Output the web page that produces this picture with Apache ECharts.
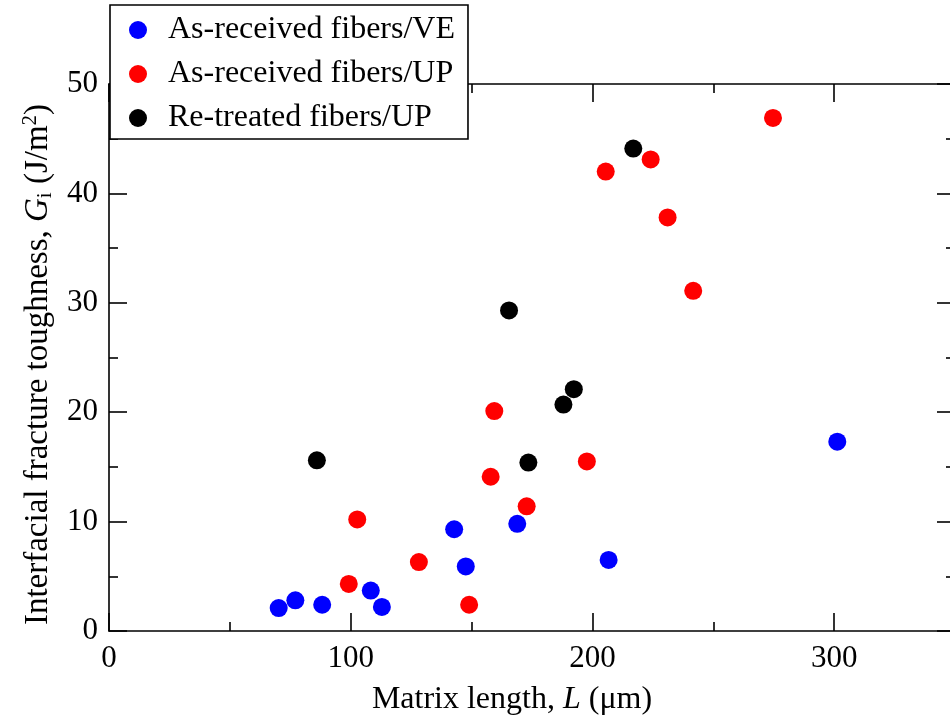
<!DOCTYPE html>
<html>
<head>
<meta charset="utf-8">
<script src="https://cdn.jsdelivr.net/npm/echarts@6/dist/echarts.min.js"></script>
<style>
  html, body { margin: 0; padding: 0; background: #fff; }
  #chart { width: 950px; height: 726px; }
</style>
</head>
<body>
<div id="chart"></div>
<script>
// Matrix length L (µm) and interfacial fracture toughness Gi (J/m²)
const veL = [70.2, 77.1, 88.2, 108.3, 112.9, 142.8, 147.6, 168.9, 206.7, 301.3];
const veG = [2.1, 2.8, 2.4, 3.7, 2.2, 9.3, 5.9, 9.8, 6.5, 17.3];

const upL = [99.2, 102.7, 128.2, 149.0, 157.9, 159.4, 172.8, 197.7, 205.5, 224.1, 231.1, 241.7, 274.7];
const upG = [4.3, 10.2, 6.3, 2.4, 14.1, 20.1, 11.4, 15.5, 42.0, 43.1, 37.8, 31.1, 46.9];

const rtL = [86.0, 165.5, 173.5, 188.0, 192.3, 216.9];
const rtG = [15.6, 29.3, 15.4, 20.7, 22.1, 44.1];

const seriesNames = ['As-received fibers/VE', 'As-received fibers/UP', 'Re-treated fibers/UP'];
const seriesColors = ['#0000ff', '#ff0000', '#000000'];

const xMajorTicks = [0, 100, 200, 300];
const xMinorTicks = [50, 150, 250];

const FONT = 'Liberation Serif, Times New Roman, serif';
const lineStyle = { color: '#000', width: 1.6 };

function pairs(xs, ys) { return xs.map((x, i) => [x, ys[i]]); }

function xAxisBase(position, major, withLabels, withLine) {
  return {
    type: 'value', min: 0, max: 350, position: position,
    gridIndex: 0,
    axisLine: { show: withLine, onZero: false, lineStyle: lineStyle },
    axisTick: {
      show: true, inside: true, length: major ? 18 : 9,
      lineStyle: lineStyle,
      customValues: major ? xMajorTicks : xMinorTicks
    },
    axisLabel: withLabels ? {
      show: true, customValues: xMajorTicks, margin: 12,
      fontFamily: FONT, fontSize: 31, color: '#000'
    } : { show: false },
    splitLine: { show: false }
  };
}

const bottomMajor = xAxisBase('bottom', true, true, true);
bottomMajor.name = '{t|Matrix length, }{it|L}{t| (μm)}';
bottomMajor.nameLocation = 'middle';
bottomMajor.nameGap = 51;
bottomMajor.nameTextStyle = {
  fontFamily: FONT, fontSize: 32, color: '#000', padding: [0, 40, 0, 0],
  rich: {
    t: { fontFamily: FONT, fontSize: 32, color: '#000', lineHeight: 36 },
    it: { fontFamily: FONT, fontSize: 32, color: '#000', fontStyle: 'italic', lineHeight: 36 }
  }
};

function yAxisBase(position, withLabels) {
  return {
    type: 'value', min: 0, max: 50, interval: 10, position: position,
    gridIndex: 0,
    axisLine: { show: true, onZero: false, lineStyle: lineStyle },
    axisTick: { show: true, inside: true, length: 18, lineStyle: lineStyle },
    minorTick: { show: true, splitNumber: 2, length: 9, lineStyle: lineStyle },
    axisLabel: withLabels ? {
      show: true, margin: 11, fontFamily: FONT, fontSize: 31, color: '#000'
    } : { show: false },
    splitLine: { show: false },
    minorSplitLine: { show: false }
  };
}

const leftAxis = yAxisBase('left', true);
leftAxis.name = '{t|Interfacial fracture toughness, }{it|G}{sub|i}{t| (J/m}{sup|2}{t|)}';
leftAxis.nameLocation = 'middle';
leftAxis.nameGap = 50;
leftAxis.nameTextStyle = {
  fontFamily: FONT, fontSize: 33, color: '#000', padding: [0, 14, 0, 0],
  rich: {
    t: { fontFamily: FONT, fontSize: 33, color: '#000', lineHeight: 36 },
    it: { fontFamily: FONT, fontSize: 33, color: '#000', fontStyle: 'italic', lineHeight: 36 },
    sub: { fontFamily: FONT, fontSize: 21, color: '#000', lineHeight: 16, verticalAlign: 'bottom' },
    sup: { fontFamily: FONT, fontSize: 21, color: '#000', lineHeight: 14, verticalAlign: 'top' }
  }
};

const chart = echarts.init(document.getElementById('chart'), null, { renderer: 'canvas' });

chart.setOption({
  animation: false,
  backgroundColor: '#fff',
  grid: {
    left: 109, top: 84, width: 846, height: 547,
    containLabel: false, outerBoundsMode: 'none'
  },
  xAxis: [
    bottomMajor,
    xAxisBase('bottom', false, false, false),
    xAxisBase('top', true, false, true),
    xAxisBase('top', false, false, false)
  ],
  yAxis: [leftAxis, yAxisBase('right', false)],
  legend: {
    orient: 'vertical', left: 110, top: 5,
    itemWidth: 50, itemHeight: 18, itemGap: 10,
    padding: [8, 13, 4, 19],
    backgroundColor: '#fff', borderColor: '#000', borderWidth: 1.6,
    selectedMode: false,
    textStyle: { fontFamily: FONT, fontSize: 32, color: '#000', lineHeight: 34 },
    data: seriesNames
  },
  series: [
    { name: seriesNames[0], type: 'scatter', data: pairs(veL, veG) },
    { name: seriesNames[1], type: 'scatter', data: pairs(upL, upG) },
    { name: seriesNames[2], type: 'scatter', data: pairs(rtL, rtG) }
  ].map((s, i) => Object.assign(s, {
    xAxisIndex: 0, yAxisIndex: 0, symbol: 'circle', symbolSize: 18,
    itemStyle: { color: seriesColors[i], opacity: 1 }
  }))
});
</script>
</body>
</html>
